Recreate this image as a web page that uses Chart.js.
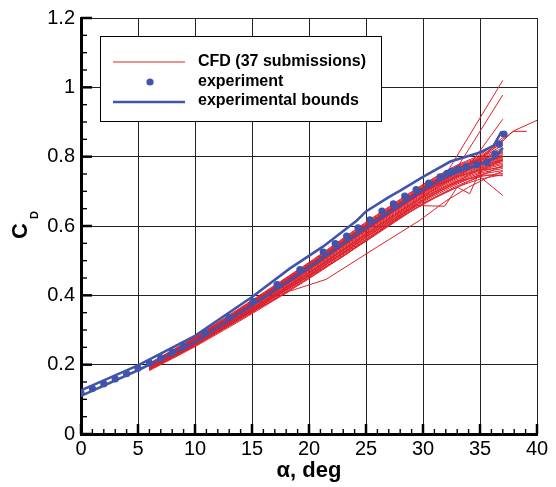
<!DOCTYPE html>
<html>
<head>
<meta charset="utf-8">
<script src="https://cdn.jsdelivr.net/npm/chart.js@4.4.0/dist/chart.umd.min.js"></script>
<style>
  html,body{margin:0;padding:0;background:#fff}
  #wrap{width:556px;height:487px;position:relative}
</style>
</head>
<body>
<div id="wrap"><canvas id="c"></canvas></div>
<script>
'use strict';

/* ---------- Daten ---------- */
const EXP_ALPHA = [0,1,2,3,4,5,6,7,8,9,10.9,13,15.1,17.2,19.2,21.25,22.3,23.3,24.3,25.35,26.4,27.4,28.4,29.4,30.5,31.5,32.1,32.5,33.1,33.8,34.7,35.6,36.3,36.7,37.1];
const EXP_CD    = [0.118,0.131,0.145,0.159,0.174,0.190,0.205,0.220,0.236,0.253,0.292,0.336,0.383,0.431,0.474,0.525,0.549,0.571,0.595,0.618,0.643,0.664,0.686,0.705,0.724,0.742,0.752,0.758,0.765,0.771,0.777,0.784,0.808,0.836,0.865];

const UPPER_ALPHA = [0,5,10,15,18.3,21.25,24.2,25,27,28,30,32.4,35,36.2,36.9];
const UPPER_CD    = [0.126,0.198,0.283,0.395,0.477,0.541,0.616,0.642,0.683,0.702,0.742,0.786,0.812,0.832,0.873];
const LOWER_ALPHA = [0,5,10,15,20,25,30,32,34,35.6,36.4,37];
const LOWER_CD    = [0.110,0.184,0.265,0.372,0.480,0.595,0.705,0.742,0.768,0.785,0.800,0.825];

/* CFD: 28 Kurven auf gemeinsamem Raster ... */
const CFD_ALPHA = [6,10,15,20,25,30,33,35,37];
const CFD_CD = [
  [0.183,0.252,0.347,0.448,0.556,0.664,0.716,0.742,0.752],
  [0.185,0.255,0.351,0.452,0.561,0.669,0.721,0.748,0.760],
  [0.187,0.257,0.354,0.456,0.566,0.674,0.726,0.752,0.766],
  [0.188,0.259,0.357,0.459,0.570,0.678,0.730,0.756,0.772],
  [0.189,0.261,0.359,0.462,0.573,0.682,0.734,0.760,0.778],
  [0.190,0.262,0.361,0.465,0.576,0.685,0.738,0.763,0.782],
  [0.191,0.264,0.363,0.467,0.579,0.688,0.741,0.766,0.786],
  [0.192,0.265,0.365,0.470,0.582,0.691,0.744,0.769,0.790],
  [0.193,0.266,0.367,0.472,0.585,0.694,0.747,0.772,0.794],
  [0.194,0.267,0.368,0.474,0.587,0.696,0.749,0.775,0.797],
  [0.194,0.268,0.370,0.476,0.589,0.698,0.752,0.778,0.800],
  [0.195,0.269,0.371,0.478,0.591,0.701,0.754,0.780,0.803],
  [0.196,0.270,0.373,0.480,0.594,0.703,0.756,0.782,0.806],
  [0.197,0.271,0.374,0.482,0.596,0.705,0.758,0.784,0.810],
  [0.198,0.272,0.376,0.484,0.598,0.707,0.761,0.787,0.815],
  [0.199,0.273,0.377,0.485,0.600,0.709,0.763,0.790,0.820],
  [0.200,0.274,0.379,0.487,0.602,0.711,0.765,0.792,0.826],
  [0.201,0.276,0.381,0.489,0.604,0.713,0.767,0.795,0.833],
  [0.202,0.277,0.382,0.491,0.606,0.715,0.770,0.798,0.840],
  [0.203,0.278,0.384,0.493,0.609,0.718,0.773,0.801,0.848],
  [0.204,0.280,0.386,0.495,0.611,0.720,0.776,0.805,0.855],
  [0.190,0.260,0.356,0.458,0.568,0.676,0.724,0.746,0.745],
  [0.186,0.256,0.350,0.450,0.558,0.665,0.712,0.735,0.748],
  [0.196,0.268,0.369,0.475,0.590,0.697,0.742,0.760,0.770],
  [0.192,0.263,0.362,0.466,0.578,0.686,0.745,0.778,0.800],
  [0.199,0.272,0.375,0.483,0.597,0.706,0.755,0.776,0.790],
  [0.188,0.258,0.355,0.457,0.567,0.672,0.728,0.765,0.792],
  [0.195,0.270,0.372,0.479,0.593,0.702,0.760,0.790,0.812]
];
/* ... und 9 Ausreißer mit eigenen Stützstellen */
const CFD_ODD_ALPHA = [
  [6,10,14,18.3,21.5,26,29.7,32,34,36,37],
  [6,10,15,20,22.7,28,31,34,37],
  [6,10,15,20,25,29.4,31.9,33,34.1,35,37],
  [6,10,15,20,25,30,32.2,37],
  [6,10,15,20,25,30,33,37],
  [6,10,15,20,25,30,34,37],
  [6,10,15,20,25,30,33,35,37,38,40],
  [6,10,15,20,25,30,33,35,37,37.9,39.1],
  [6,10,15,20,25,30,33,35,37]
];
const CFD_ODD_CD = [
  [0.186,0.254,0.335,0.412,0.446,0.540,0.616,0.672,0.712,0.745,0.758],
  [0.188,0.258,0.356,0.455,0.506,0.625,0.680,0.728,0.775],
  [0.189,0.259,0.357,0.457,0.562,0.659,0.657,0.712,0.693,0.760,0.790],
  [0.197,0.270,0.372,0.479,0.594,0.704,0.760,1.020],
  [0.196,0.269,0.370,0.477,0.591,0.700,0.768,0.978],
  [0.195,0.268,0.369,0.476,0.590,0.699,0.772,0.908],
  [0.201,0.275,0.380,0.488,0.603,0.712,0.766,0.795,0.850,0.875,0.905],
  [0.200,0.274,0.379,0.486,0.601,0.710,0.764,0.793,0.845,0.873,0.873],
  [0.191,0.262,0.360,0.463,0.574,0.682,0.730,0.742,0.688]
];

const X_TICKS = [0,5,10,15,20,25,30,35,40];
const Y_TICKS = [0,0.2,0.4,0.6,0.8,1,1.2];
const LEGEND_LABELS = ['CFD (37 submissions)','experiment','experimental bounds'];

/* ---------- Stil ---------- */
const RED='rgb(222,32,42)', BLUE='rgb(64,84,172)';
const FONT='"Liberation Sans", Arial, Helvetica, sans-serif';

const pts=(xs,ys)=>xs.map((x,i)=>({x, y:ys[i]}));

const datasets=[];
datasets.push({label:LEGEND_LABELS[1], data:pts(EXP_ALPHA,EXP_CD), showLine:false,
  pointRadius:3.6, pointBackgroundColor:BLUE, pointBorderWidth:0});
datasets.push({label:'upper', data:pts(UPPER_ALPHA,UPPER_CD), showLine:true, borderColor:BLUE,
  borderWidth:2.6, pointRadius:0, tension:0});
datasets.push({label:'lower', data:pts(LOWER_ALPHA,LOWER_CD), showLine:true, borderColor:BLUE,
  borderWidth:2.6, pointRadius:0, tension:0});
CFD_CD.forEach((row,i)=>datasets.push({label:'cfd'+i, data:pts(CFD_ALPHA,row), showLine:true,
  borderColor:RED, borderWidth:1, pointRadius:0, tension:0.2}));
CFD_ODD_ALPHA.forEach((xs,i)=>datasets.push({label:'odd'+i, data:pts(xs,CFD_ODD_CD[i]), showLine:true,
  borderColor:RED, borderWidth:1, pointRadius:0, tension:0}));

/* Innenliegende Haupt-/Nebenstriche, y-Titel, Legende */
const deco={
  id:'deco',
  afterDraw(chart){
    const c=chart.ctx, xs=chart.scales.x, ys=chart.scales.y, a=chart.chartArea;
    c.save();
    c.strokeStyle='#000';
    for(let v=0; v<=40; v++){
      const px=xs.getPixelForValue(v), maj=v%5===0;
      c.lineWidth=maj?2.5:1.4;
      c.beginPath(); c.moveTo(px,a.bottom); c.lineTo(px,a.bottom-(maj?10:5)); c.stroke();
    }
    for(let i=0; i<=24; i++){
      const py=ys.getPixelForValue(i*0.05), maj=i%4===0;
      c.lineWidth=maj?2.5:1.4;
      c.beginPath(); c.moveTo(a.left,py); c.lineTo(a.left+(maj?11:6),py); c.stroke();
    }
    // y-Titel C_D
    c.fillStyle='#000';
    c.translate(27,239); c.rotate(-Math.PI/2);
    c.textBaseline='alphabetic'; c.textAlign='left';
    c.font='bold 22px '+FONT; c.fillText('C',0,0);
    c.font='bold 11px '+FONT; c.fillText('D',20,11);
    c.restore();

    // Legende
    c.save();
    c.fillStyle='#fff'; c.fillRect(100,36,281,85);
    c.strokeStyle='#000'; c.lineWidth=1; c.strokeRect(100.5,36.5,281,85);
    c.strokeStyle=RED; c.lineWidth=1;
    c.beginPath(); c.moveTo(113,62); c.lineTo(185,62); c.stroke();
    c.fillStyle=BLUE; c.beginPath(); c.arc(150,82,3.6,0,Math.PI*2); c.fill();
    c.strokeStyle=BLUE; c.lineWidth=2.6;
    c.beginPath(); c.moveTo(113,102); c.lineTo(185,102); c.stroke();
    c.fillStyle='#000'; c.font='bold 16px '+FONT; c.textBaseline='middle'; c.textAlign='left';
    c.fillText(LEGEND_LABELS[0],198,62);
    c.fillText(LEGEND_LABELS[1],198,82);
    c.fillText(LEGEND_LABELS[2],198,101);
    c.restore();
  }
};

new Chart(document.getElementById('c'),{
  type:'scatter',
  data:{datasets},
  options:{
    responsive:true, maintainAspectRatio:false, animation:false, devicePixelRatio:1,
    layout:{padding:{top:17,right:19,left:0,bottom:0}},
    plugins:{legend:{display:false}, tooltip:{enabled:false}},
    events:[],
    scales:{
      x:{type:'linear', min:0, max:40,
        afterBuildTicks:s=>{ s.ticks=X_TICKS.map(v=>({value:v})); },
        ticks:{color:'#000', font:{family:FONT,size:20}, padding:3, maxRotation:0, autoSkip:false},
        grid:{color:'#222', lineWidth:1, drawTicks:false},
        border:{display:true, color:'#000', width:3},
        title:{display:true, text:'α, deg', color:'#000', font:{family:FONT,size:22,weight:'bold'}, padding:{top:0,bottom:3}},
        afterFit:s=>{ s.height=53; }
      },
      y:{type:'linear', min:0, max:1.2,
        afterBuildTicks:s=>{ s.ticks=Y_TICKS.map(v=>({value:v})); },
        ticks:{color:'#000', font:{family:FONT,size:20}, padding:6, autoSkip:false,
          callback:v=>String(Math.round(v*10)/10)},
        grid:{color:'#222', lineWidth:1, drawTicks:false},
        border:{display:true, color:'#000', width:3},
        afterFit:s=>{ s.width=81; }
      }
    }
  },
  plugins:[deco]
});
</script>
</body>
</html>
